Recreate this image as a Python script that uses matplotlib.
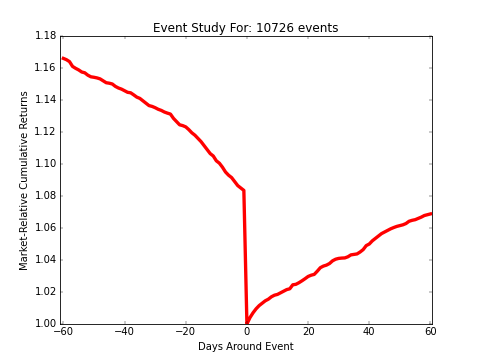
import numpy as np
import matplotlib
matplotlib.use('Agg')
import matplotlib.pyplot as plt

plt.style.use('classic')

# cumulative market-relative returns, days -60 .. 60
days = np.arange(-60, 61)
pre_event = [1.1660, 1.1652, 1.1640, 1.1610, 1.1598, 1.1588, 1.1575, 1.1570, 1.1555, 1.1545,
             1.1542, 1.1538, 1.1532, 1.1520, 1.1508, 1.1505, 1.1500, 1.1485, 1.1475, 1.1468,
             1.1458, 1.1448, 1.1445, 1.1432, 1.1418, 1.1410, 1.1395, 1.1380, 1.1365, 1.1360,
             1.1352, 1.1342, 1.1335, 1.1325, 1.1318, 1.1312, 1.1285, 1.1265, 1.1245, 1.1240,
             1.1232, 1.1215, 1.1195, 1.1180, 1.1160, 1.1140, 1.1115, 1.1090, 1.1065, 1.1050,
             1.1020, 1.1005, 1.0980, 1.0950, 1.0930, 1.0915, 1.0890, 1.0865, 1.0850, 1.0835]
post_event = [1.0000, 1.0040, 1.0070, 1.0095, 1.0115, 1.0130, 1.0145, 1.0155, 1.0170, 1.0180,
              1.0185, 1.0195, 1.0205, 1.0215, 1.0220, 1.0245, 1.0248, 1.0258, 1.0270, 1.0283,
              1.0297, 1.0305, 1.0310, 1.0330, 1.0352, 1.0362, 1.0368, 1.0378, 1.0395, 1.0405,
              1.0410, 1.0412, 1.0413, 1.0420, 1.0432, 1.0435, 1.0438, 1.0450, 1.0465, 1.0490,
              1.0500, 1.0520, 1.0535, 1.0550, 1.0565, 1.0575, 1.0585, 1.0595, 1.0603, 1.0610,
              1.0615, 1.0620, 1.0628, 1.0642, 1.0648, 1.0652, 1.0660, 1.0668, 1.0678, 1.0683,
              1.0688]
cum_returns = np.array(pre_event + post_event)
n_events = 10726

fig = plt.figure(figsize=(8, 6), dpi=60)
plt.axhline(1.0, color='b')
plt.plot(days, cum_returns, color='r', lw=4)
plt.xlim(-61.1, 60.5)
plt.ylim(1.00, 1.18)
plt.xticks([-60, -40, -20, 0, 20, 40, 60])
plt.yticks(np.arange(1.00, 1.181, 0.02))
plt.xlabel('Days Around Event')
plt.ylabel('Market-Relative Cumulative Returns')
plt.title('Event Study For: %d events' % n_events)
plt.savefig('out.png', dpi=60, facecolor='white')
